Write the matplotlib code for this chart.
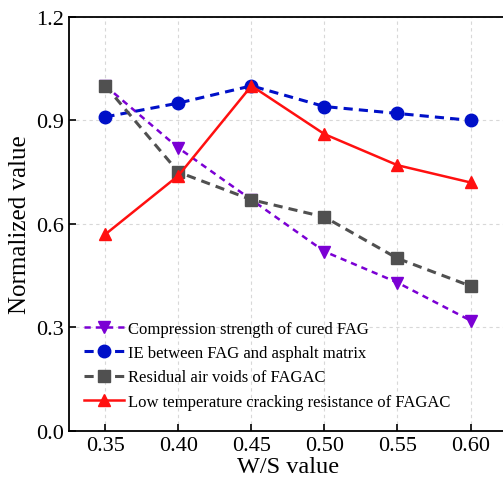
import matplotlib
matplotlib.use("Agg")
import matplotlib.pyplot as plt

plt.rcParams['font.family'] = ['Liberation Serif', 'DejaVu Serif']

ws = [0.35, 0.40, 0.45, 0.50, 0.55, 0.60]
compression = [1.00, 0.82, 0.67, 0.52, 0.43, 0.32]
ie = [0.91, 0.95, 1.00, 0.94, 0.92, 0.90]
air_voids = [1.00, 0.75, 0.67, 0.62, 0.50, 0.42]
cracking = [0.57, 0.74, 1.00, 0.86, 0.77, 0.72]

fig = plt.figure(figsize=(5.03, 4.89), dpi=100)
ax = fig.add_axes([0.137, 0.1166, 0.871, 0.847])

ax.plot(ws, compression, linestyle=(0, (2.5, 2)), color='#7b00d4', marker='v',
        markersize=9, linewidth=1.8, label='Compression strength of cured FAG')
ax.plot(ws, ie, linestyle=(0, (3, 2)), color='#0010c8', marker='o',
        markersize=9, linewidth=2.2, label='IE between FAG and asphalt matrix')
ax.plot(ws, air_voids, linestyle=(0, (3, 2)), color='#505050', marker='s',
        markersize=8, linewidth=2.2, label='Residual air voids of FAGAC')
ax.plot(ws, cracking, linestyle='-', color='#ff1010', marker='^',
        markersize=9, linewidth=1.8, label='Low temperature cracking resistance of FAGAC')

ax.set_xlim(0.325, 0.625)
ax.set_ylim(0, 1.2)
ax.set_xticks(ws)
ax.set_xticklabels(['0.35', '0.40', '0.45', '0.50', '0.55', '0.60'])
ax.set_yticks([0, 0.3, 0.6, 0.9, 1.2])
ax.set_yticklabels(['0.0', '0.3', '0.6', '0.9', '1.2'])
ax.tick_params(direction='in', labelsize=16, length=5, width=1.2)
ax.grid(True, linestyle=(0, (3, 3)), color='#d8d8d8', linewidth=0.8)
for s in ax.spines.values():
    s.set_linewidth(1.3)

ax.set_xlabel('W/S value', fontsize=17.5, labelpad=1)
ax.set_ylabel('Normalized value', fontsize=18, labelpad=4)

ax.legend(loc='lower left', bbox_to_anchor=(0.02, 0.035), frameon=False,
          fontsize=12, handlelength=2.4, handletextpad=0.2,
          labelspacing=0.5, borderaxespad=0.0)

fig.savefig('out.png', dpi=100)
